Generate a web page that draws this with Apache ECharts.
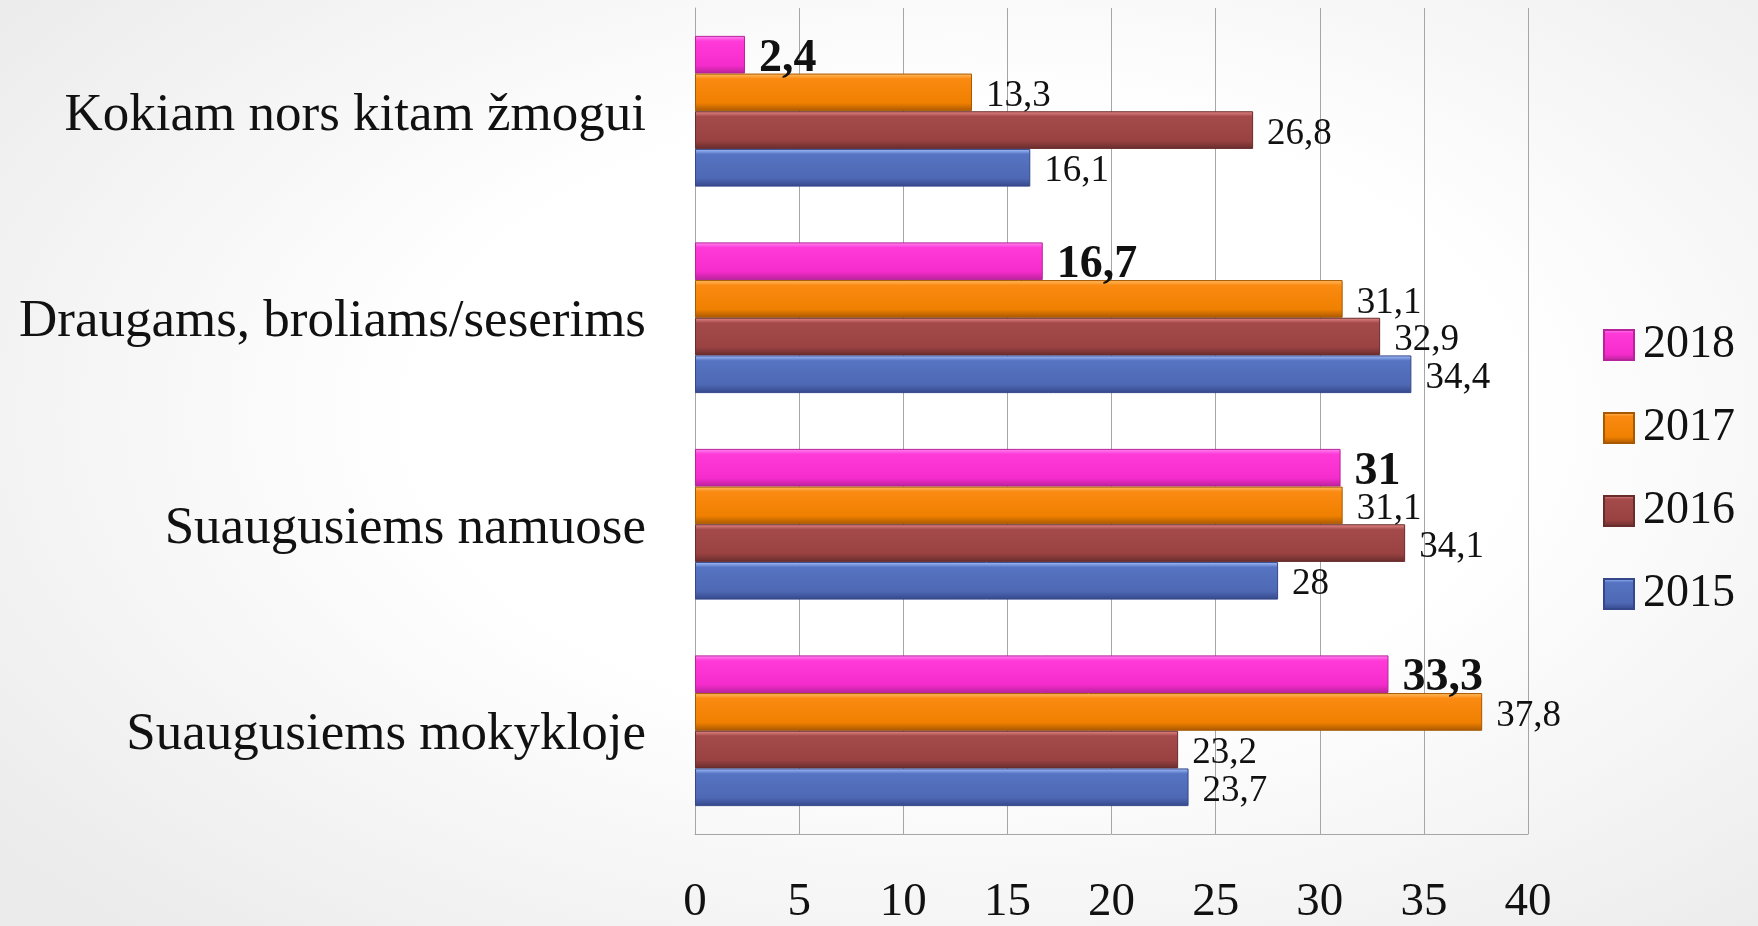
<!DOCTYPE html>
<html>
<head>
<meta charset="utf-8">
<script src="https://cdn.jsdelivr.net/npm/echarts@6/dist/echarts.min.js"></script>
<style>
html,body{margin:0;padding:0;width:1758px;height:926px;overflow:hidden;
background: radial-gradient(ellipse 70% 75% at 55% 45%, #ffffff 45%, #ebebeb 100%);}
#c{width:1758px;height:926px;}
</style>
</head>
<body>
<div id="c"></div>
<script>
const categories = ['Kokiam nors kitam žmogui', 'Draugams, broliams/seserims', 'Suaugusiems namuose', 'Suaugusiems mokykloje'];
const years = ['2018', '2017', '2016', '2015'];
const v2018 = [2.4, 16.7, 31, 33.3];
const v2017 = [13.3, 31.1, 31.1, 37.8];
const v2016 = [26.8, 32.9, 34.1, 23.2];
const v2015 = [16.1, 34.4, 28, 23.7];
const xTicks = [0, 5, 10, 15, 20, 25, 30, 35, 40];

const FONT = "'Palatino Linotype','Book Antiqua',Palatino,'Liberation Serif',serif";
const palette = {
  '2018': ['#ff8af0', '#ff3ad8', '#f52ccc', '#b8229b'],
  '2017': ['#ffc066', '#fb8a12', '#f08000', '#a85800'],
  '2016': ['#e88a8a', '#a44a4a', '#9a4242', '#682c2c'],
  '2015': ['#a8c2ff', '#5674c2', '#4e68b4', '#34478a']
};
function grad(c) {
  return {type: 'linear', x: 0, y: 0, x2: 0, y2: 1, colorStops: [
    {offset: 0, color: c[0]}, {offset: 0.14, color: c[1]},
    {offset: 0.78, color: c[2]}, {offset: 1, color: c[3]}]};
}
const fmt = p => String(p.value).replace('.', ',');
const dataByYear = {'2018': v2018, '2017': v2017, '2016': v2016, '2015': v2015};

const series = years.map((y, i) => ({
  name: y,
  type: 'bar',
  data: dataByYear[y],
  barGap: '0%',
  barCategoryGap: '27%',
  itemStyle: {color: grad(palette[y]), borderColor: palette[y][3], borderWidth: 1},
  label: {
    show: true, position: 'right', distance: 14, formatter: fmt, offset: [0, 4],
    fontFamily: FONT, color: '#111',
    fontSize: i === 0 ? 46 : 37, fontWeight: i === 0 ? 'bold' : 'normal'
  }
}));

const chart = echarts.init(document.getElementById('c'), null, {renderer: 'canvas'});
chart.setOption({
  backgroundColor: 'transparent',
  animation: false,
  grid: {left: 695, right: 230, top: 8, bottom: 89, containLabel: false},
  legend: {
    orient: 'vertical', left: 1598, top: 317, icon: 'rect',
    data: years, itemWidth: 30, itemHeight: 30, itemGap: 37,
    textStyle: {fontFamily: FONT, fontSize: 46, color: '#111', lineHeight: 44, padding: [0, 0, 0, 4]}
  },
  xAxis: {
    type: 'value', min: xTicks[0], max: xTicks[xTicks.length - 1], interval: xTicks[1] - xTicks[0],
    axisLine: {show: true, lineStyle: {color: '#a6a6a6', width: 1}},
    axisTick: {show: false},
    splitLine: {show: true, lineStyle: {color: '#a6a6a6', width: 1}},
    axisLabel: {fontFamily: FONT, fontSize: 47, color: '#111', margin: 45}
  },
  yAxis: {
    type: 'category', data: categories, inverse: true,
    axisLine: {show: true, lineStyle: {color: '#a6a6a6', width: 1}},
    axisTick: {show: false},
    axisLabel: {
      margin: 49,
      formatter: v => '{c|' + v + '}',
      rich: {c: {fontFamily: FONT, fontSize: 53, color: '#111', padding: [9, 0, 0, 0]}}
    }
  },
  series: series
});
</script>
</body>
</html>
